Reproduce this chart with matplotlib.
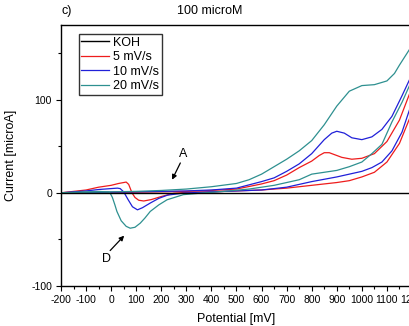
import matplotlib
matplotlib.use("Agg")
import matplotlib.pyplot as plt

plt.rcParams['font.family'] = ['Liberation Sans', 'DejaVu Sans']
plt.rcParams['axes.unicode_minus'] = False

# KOH blank
koh_E = [-200, 0, 200, 400, 600, 800, 1000, 1200]
koh_I = [0, 0, 0, 0, 0, 0, 0, 0]

# 5 mV/s
red_fwd_E = [-200, -100, 0, 100, 200, 300, 400, 500, 600, 650, 700, 750, 800, 830, 850, 870, 890,
             920, 960, 1000, 1050, 1100, 1150, 1200]
red_fwd_I = [0, 0.2, 0.4, 0.7, 1, 1.5, 2.5, 4, 9.5, 13, 19, 27, 34, 40, 43, 43, 41,
             38, 36, 37, 42, 55, 78, 113]
red_rev_E = [-200, -150, -100, -50, 0, 30, 50, 60, 70, 83, 95, 110, 130, 160, 200, 250, 300,
             400, 500, 600, 700, 800, 900, 950, 1000, 1050, 1100, 1150, 1200]
red_rev_I = [0, 1.5, 3, 6, 8, 10, 11, 11.5, 9, 0, -5, -8, -8.8, -7.3, -4, -0.5, 0.5,
             1, 2, 3, 5, 8, 11, 13, 17, 22, 33, 53, 86]

# 10 mV/s
blue_fwd_E = [-200, -100, 0, 100, 200, 300, 400, 500, 600, 650, 700, 750, 800, 850, 880,
              900, 930, 960, 1000, 1040, 1080, 1120, 1160, 1200]
blue_fwd_I = [0, 0.3, 0.7, 1, 1.5, 2, 3, 5, 12, 16, 23, 31, 42, 57, 64,
              66, 64, 59, 57, 60, 68, 82, 104, 127]
blue_rev_E = [-200, -150, -100, -50, 0, 25, 36, 50, 68, 85, 105, 125, 156, 190, 225, 290,
              400, 500, 600, 700, 800, 900, 1000, 1040, 1080, 1120, 1160, 1200]
blue_rev_I = [0, 1, 2, 3.5, 4.5, 5, 4.5, 1, -7.5, -15, -18.3, -16, -11, -6, -2.5, -0.3,
              1, 2, 3, 6, 12, 17, 23, 27, 33, 45, 65, 97]

# 20 mV/s
cyan_fwd_E = [-200, -100, 0, 100, 200, 300, 400, 500, 550, 600, 650, 700, 750, 800, 850,
              900, 950, 1000, 1050, 1100, 1130, 1150, 1200]
cyan_fwd_I = [0, 0.5, 1, 1.5, 2.5, 4, 6.5, 10, 14, 20, 28, 36, 45, 56, 73,
              93, 109, 115, 116, 120, 128, 137, 158]
cyan_rev_E = [-200, -100, -44, -10, -4, 5, 15, 23, 40, 60, 76, 95, 116, 135, 156, 190, 223, 288,
              356, 450, 550, 650, 750, 800, 850, 900, 950, 1000, 1040, 1080, 1120, 1160, 1200]
cyan_rev_I = [0, 1, 1.4, 0.8, -0.3, -5, -13, -20, -30, -36, -38, -37, -32.6, -27, -20, -13, -7.5, -2,
              -0.4, 1.5, 4, 8, 14, 20, 22, 24, 28, 33, 42, 52, 76, 97, 121]

labels = ['KOH', '5 mV/s', '10 mV/s', '20 mV/s']
colors = ['black', '#ee1c1c', '#2020d8', '#2e9090']

fig = plt.figure(figsize=(4.10, 3.26), dpi=100)
ax = fig.add_axes([61 / 410, 1 - 286 / 326, 351 / 410, 261 / 326])

lw = 0.9
h_red, = ax.plot(red_fwd_E, red_fwd_I, color=colors[1], lw=lw)
ax.plot(red_rev_E, red_rev_I, color=colors[1], lw=lw)
h_blue, = ax.plot(blue_fwd_E, blue_fwd_I, color=colors[2], lw=lw)
ax.plot(blue_rev_E, blue_rev_I, color=colors[2], lw=lw)
h_cyan, = ax.plot(cyan_fwd_E, cyan_fwd_I, color=colors[3], lw=lw)
ax.plot(cyan_rev_E, cyan_rev_I, color=colors[3], lw=lw)
h_koh, = ax.plot(koh_E, koh_I, color=colors[0], lw=1.0, zorder=5)

ax.set_xlim(-200, 1200)
ax.set_ylim(-100, 180)
ax.set_xticks(range(-200, 1201, 100))
ax.set_xticks(range(-150, 1201, 100), minor=True)
ax.set_yticks([-100, 0, 100])
ax.set_yticks([-50, 50, 150], minor=True)
ax.tick_params(which='major', direction='out', length=3.5, width=0.8, labelsize=7.5, pad=3)
ax.tick_params(which='minor', direction='out', length=2.2, width=0.8)
for s in ax.spines.values():
    s.set_linewidth(1.0)

ax.set_xlabel('Potential [mV]', fontsize=9, labelpad=5.5)
ax.set_ylabel('Current [microA]', fontsize=9, labelpad=10)

leg = ax.legend([h_koh, h_red, h_blue, h_cyan], labels, loc='upper left',
                bbox_to_anchor=(0.0504, 0.9644), borderaxespad=0, fontsize=9,
                frameon=True, fancybox=False, framealpha=1, edgecolor='#333333',
                borderpad=0.2, handletextpad=0.35, handlelength=2.2, labelspacing=0.2)
leg.get_frame().set_linewidth(1.0)

# markers A and D
arrow = dict(arrowstyle='-|>', color='black', lw=0.9, mutation_scale=7, shrinkA=0, shrinkB=0)
ax.annotate('', xy=(243, 14), xytext=(276, 32), arrowprops=arrow)
ax.text(288, 42, 'A', fontsize=9, ha='center', va='center')
ax.annotate('', xy=(52, -46), xytext=(-4, -62), arrowprops=arrow)
ax.text(-20, -71, 'D', fontsize=9, ha='center', va='center')

fig.text(62 / 410, 1 - 11 / 326, 'c)', fontsize=9, ha='left', va='center')
fig.text(210 / 410, 1 - 11 / 326, '100 microM', fontsize=9, ha='center', va='center')

fig.savefig('out.png', dpi=100)
